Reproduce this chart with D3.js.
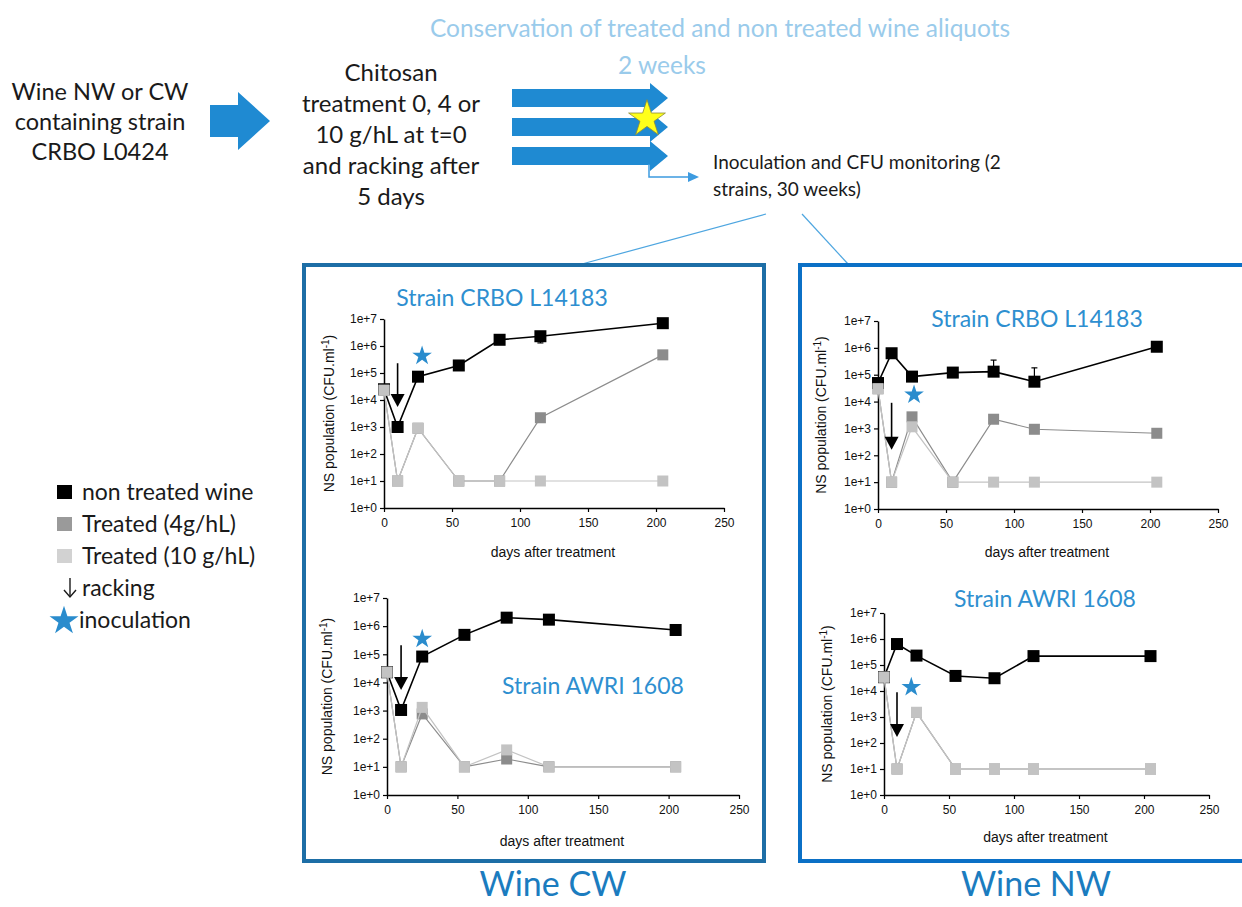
<!DOCTYPE html>
<html>
<head>
<meta charset="utf-8">
<script src="https://cdn.jsdelivr.net/npm/d3@7"></script>
<style>
  html, body { margin: 0; padding: 0; background: #fff; }
  svg { display: block; }
</style>
</head>
<body>
<svg id="fig" width="1242" height="907"></svg>
<script>
// Sampling days and axis ticks shared by all four panels
const days = [0, 10, 25, 55, 85, 115, 205];
const xTicks = [0, 50, 100, 150, 200, 250];
const yTicks = [1, 10, 100, 1e3, 1e4, 1e5, 1e6, 1e7];

// Wine CW, strain CRBO L14183
const cwCrboNon = [2.5e4, 1e3, 7.3e4, 1.9e5, 1.7e6, 2.3e6, 7e6];
const cwCrbo4 = [2.3e4, 10, 9e2, 10, 10, 2.2e3, 4.7e5];
const cwCrbo10 = [2.3e4, 10, 9e2, 10, 10, 10, 10];
const cwCrboErr = [[115, 1.3e6, 2.3e6]];

// Wine NW, strain CRBO L14183
const nwCrboNon = [4.9e4, 6.3e5, 8.5e4, 1.2e5, 1.3e5, 5.5e4, 1.1e6];
const nwCrbo4 = [3e4, 10, 2.7e3, 10, 2.2e3, 9.3e2, 6.6e2];
const nwCrbo10 = [3e4, 10, 1.15e3, 10, 10, 10, 10];
const nwCrboErr = [[85, 1.3e5, 3.5e5], [115, 5.5e4, 1.8e5]];

// Wine CW, strain AWRI 1608
const cwAwriNon = [2.3e4, 1.05e3, 8.3e4, 4.9e5, 2e6, 1.7e6, 7.3e5];
const cwAwri4 = [2.3e4, 10, 7.6e2, 10, 19, 10, 10];
const cwAwri10 = [2.3e4, 10, 1.3e3, 10, 40, 10, 10];

// Wine NW, strain AWRI 1608
const nwAwriNon = [3.4e4, 6.4e5, 2.3e5, 3.8e4, 3.1e4, 2.2e5, 2.2e5];
const nwAwri4 = [3.4e4, 10, 1.5e3, 10, 10, 10, 10];
const nwAwri10 = [3.4e4, 10, 1.5e3, 10, 10, 10, 10];

// Legend entries
const legendLabels = ['non treated wine', 'Treated (4g/hL)', 'Treated (10 g/hL)', 'racking', 'inoculation'];

const C_BLACK = '#000';
const C_MID = '#8c8c8c';
const C_LIGHT = '#c3c3c3';
const C_STAR = '#2a8ccd';
const C_TITLE = '#2e8fd0';
const SANS = 'Lato, "Open Sans", sans-serif';
const ARIAL = '"Liberation Sans", Arial, sans-serif';

const svg = d3.select('#fig');

// -----------------------------------------------------------------------------
// Flow diagram across the top
// -----------------------------------------------------------------------------
function multiline(lines, cx, y0, dy, size, color, anchor = 'middle') {
  const t = svg.append('text')
    .attr('text-anchor', anchor)
    .attr('font-family', SANS)
    .attr('font-size', size)
    .attr('fill', color);
  lines.forEach((l, i) => {
    t.append('tspan').attr('x', cx).attr('y', y0 + i * dy).text(l);
  });
  return t;
}

multiline(['Wine NW or CW', 'containing strain', 'CRBO L0424'], 100, 100, 30, 23.5, '#1a1a1a');
multiline(['Chitosan', 'treatment 0, 4 or', '10 g/hL at t=0', 'and racking after', '5 days'], 391, 81, 31, 24, '#1a1a1a');

multiline(['Conservation of treated and non treated wine aliquots'], 720, 37, 0, 24.5, '#9acbeb');
multiline(['2 weeks'], 662, 74, 0, 24.5, '#9acbeb');

// big block arrow
function blockArrow(x0, x1, cy, bodyH, headH, headW, color) {
  const p = d3.path();
  p.moveTo(x0, cy - bodyH / 2);
  p.lineTo(x1 - headW, cy - bodyH / 2);
  p.lineTo(x1 - headW, cy - headH / 2);
  p.lineTo(x1, cy);
  p.lineTo(x1 - headW, cy + headH / 2);
  p.lineTo(x1 - headW, cy + bodyH / 2);
  p.lineTo(x0, cy + bodyH / 2);
  p.closePath();
  svg.append('path').attr('d', p.toString()).attr('fill', color);
}
blockArrow(210, 270, 121, 32, 58, 32, '#1f8ad2');
[98, 127, 156].forEach(cy => blockArrow(512, 668, cy, 18, 30, 18, '#1f8ad2'));

svg.append('path')
  .attr('d', d3.symbol(d3.symbolStar, 420)())
  .attr('transform', 'translate(647,119)')
  .attr('fill', '#ffff1a')
  .attr('stroke', '#8a8a3a')
  .attr('stroke-width', 0.8);

// small connector arrow into the inoculation step
svg.append('path')
  .attr('d', 'M649,164 L649,177 L690,177')
  .attr('fill', 'none').attr('stroke', '#3d9be0').attr('stroke-width', 1.5);
svg.append('path')
  .attr('d', 'M699,177 L688,172 L688,182 Z')
  .attr('fill', '#3d9be0');

multiline(['Inoculation and CFU monitoring (2', 'strains, 30 weeks)'], 713, 169, 27, 19, '#1a1a1a', 'start');

// callout lines to the two boxes
svg.append('line').attr('x1', 766).attr('y1', 214).attr('x2', 582).attr('y2', 264)
  .attr('stroke', '#4ea6e0').attr('stroke-width', 1.2);
svg.append('line').attr('x1', 802).attr('y1', 214).attr('x2', 848).attr('y2', 264)
  .attr('stroke', '#4ea6e0').attr('stroke-width', 1.2);

// wine boxes
svg.append('rect').attr('x', 304).attr('y', 265).attr('width', 460).attr('height', 596)
  .attr('fill', 'none').attr('stroke', '#1d6ea6').attr('stroke-width', 4);
svg.append('rect').attr('x', 800).attr('y', 265).attr('width', 460).attr('height', 596)
  .attr('fill', 'none').attr('stroke', '#0b70c6').attr('stroke-width', 4);

multiline(['Wine CW'], 553, 896, 0, 34, '#1b7cbf');
multiline(['Wine NW'], 1036, 896, 0, 34, '#1b7cbf');

// -----------------------------------------------------------------------------
// Legend
// -----------------------------------------------------------------------------
const legend = svg.append('g').attr('font-family', SANS).attr('font-size', 23).attr('fill', '#1a1a1a');
const legendY = d3.scalePoint().domain(legendLabels).range([492, 620]);
const swatch = [C_BLACK, '#9a9a9a', '#d2d2d2'];
legendLabels.forEach((lab, i) => {
  const cy = legendY(lab);
  if (i < 3) {
    legend.append('rect').attr('x', 57).attr('y', cy - 7).attr('width', 15).attr('height', 14)
      .attr('fill', swatch[i]);
  } else if (i === 3) {
    legend.append('line').attr('x1', 70).attr('y1', cy - 10).attr('x2', 70).attr('y2', cy + 8)
      .attr('stroke', '#1a1a1a').attr('stroke-width', 1.4);
    legend.append('path').attr('d', `M64,${cy + 2} L70,${cy + 9} L76,${cy + 2}`)
      .attr('fill', 'none').attr('stroke', '#1a1a1a').attr('stroke-width', 1.4);
  } else {
    legend.append('path').attr('d', d3.symbol(d3.symbolStar, 260)())
      .attr('transform', `translate(64,${cy + 1})`).attr('fill', C_STAR);
  }
  legend.append('text').attr('x', i === 4 ? 79 : 82).attr('y', cy + 8).text(lab);
});

// -----------------------------------------------------------------------------
// The four log-scale panels
// -----------------------------------------------------------------------------
function panel(cfg) {
  const x = d3.scaleLinear().domain([0, 250]).range([cfg.x0, cfg.x1]);
  const y = d3.scaleLog().domain([1, 1e7]).range([cfg.yb, cfg.yt]);
  const g = svg.append('g');

  const ax = g.append('g').attr('transform', `translate(0,${cfg.yb})`)
    .call(d3.axisBottom(x).tickValues(xTicks).tickSize(4).tickSizeOuter(0).tickPadding(6));
  const ay = g.append('g').attr('transform', `translate(${cfg.x0},0)`)
    .call(d3.axisLeft(y).tickValues(yTicks).tickSize(4).tickSizeOuter(0).tickPadding(3)
      .tickFormat(d => '1e+' + Math.round(Math.log10(d))));
  [ax, ay].forEach(a => {
    a.select('.domain').attr('stroke', '#000').attr('stroke-width', 1.5);
    a.selectAll('.tick line').attr('stroke', '#000').attr('stroke-width', 1.2);
    a.selectAll('.tick text').attr('font-family', ARIAL).attr('font-size', 12).attr('fill', '#111');
  });

  // axis titles
  const yt = g.append('text')
    .attr('transform', `translate(${cfg.ytx},${(cfg.yt + cfg.yb) / 2}) rotate(-90)`)
    .attr('text-anchor', 'middle')
    .attr('font-family', ARIAL).attr('font-size', 14).attr('fill', '#111');
  yt.append('tspan').text('NS population (CFU.ml');
  yt.append('tspan').attr('dy', -5).attr('font-size', 10).text('-1');
  yt.append('tspan').attr('dy', 5).text(')');

  g.append('text').attr('x', (cfg.x0 + cfg.x1) / 2 - 1).attr('y', cfg.xty)
    .attr('text-anchor', 'middle')
    .attr('font-family', ARIAL).attr('font-size', 14).attr('fill', '#111')
    .text('days after treatment');

  g.append('text').attr('x', cfg.tx).attr('y', cfg.ty).attr('text-anchor', 'middle')
    .attr('font-family', SANS).attr('font-size', 23).attr('fill', C_TITLE)
    .text(cfg.title);

  const line = d3.line().x((d, i) => x(days[i])).y(d => y(d));
  const series = [
    { v: cfg.non, c: C_BLACK, w: 1.6, s: 12 },
    { v: cfg.t4, c: C_MID, w: 1.2, s: 11 },
    { v: cfg.t10, c: C_LIGHT, w: 1.2, s: 11 }
  ];
  series.forEach(sr => {
    g.append('path').datum(sr.v).attr('d', line)
      .attr('fill', 'none').attr('stroke', sr.c).attr('stroke-width', sr.w);
    g.selectAll(null).data(sr.v).join('rect')
      .attr('x', (d, i) => x(days[i]) - sr.s / 2)
      .attr('y', d => y(d) - sr.s / 2)
      .attr('width', sr.s).attr('height', sr.s)
      .attr('fill', sr.c);
  });

  (cfg.err || []).forEach(([dx, lo, hi]) => {
    g.append('line').attr('x1', x(dx)).attr('x2', x(dx)).attr('y1', y(lo)).attr('y2', y(hi))
      .attr('stroke', '#000').attr('stroke-width', 1.2);
    const capY = y(hi) < y(cfg.non[days.indexOf(dx)]) - 1 ? y(hi) : y(lo);
    g.append('line').attr('x1', x(dx) - 3).attr('x2', x(dx) + 3).attr('y1', capY).attr('y2', capY)
      .attr('stroke', '#000').attr('stroke-width', 1.2);
  });

  // racking arrow
  const [rd, rTop, rTip] = cfg.rack;
  const ax0 = x(rd), ay0 = y(rTop), ay1 = y(rTip);
  g.append('line').attr('x1', ax0).attr('x2', ax0).attr('y1', ay0).attr('y2', ay1 - 10)
    .attr('stroke', '#000').attr('stroke-width', 1.6);
  g.append('path').attr('d', `M${ax0 - 7},${ay1 - 13} L${ax0 + 7},${ay1 - 13} L${ax0},${ay1} Z`)
    .attr('fill', '#000');

  // inoculation star
  g.append('path').attr('d', d3.symbol(d3.symbolStar, 120)())
    .attr('transform', `translate(${x(cfg.star[0])},${y(cfg.star[1])})`)
    .attr('fill', C_STAR);
}

panel({ x0: 384, x1: 724, yt: 319, yb: 508, ytx: 334, xty: 557, tx: 502, ty: 306,
  title: 'Strain CRBO L14183', non: cwCrboNon, t4: cwCrbo4, t10: cwCrbo10, err: cwCrboErr,
  rack: [10, 2.3e5, 5.5e3], star: [28, 4.3e5] });
panel({ x0: 878, x1: 1218, yt: 321, yb: 509, ytx: 826, xty: 557, tx: 1037, ty: 327,
  title: 'Strain CRBO L14183', non: nwCrboNon, t4: nwCrbo4, t10: nwCrbo10, err: nwCrboErr,
  rack: [10, 9e3, 1.6e2], star: [26.5, 1.8e4] });
panel({ x0: 387, x1: 739, yt: 598, yb: 795, ytx: 332, xty: 846, tx: 593, ty: 694,
  title: 'Strain AWRI 1608', non: cwAwriNon, t4: cwAwri4, t10: cwAwri10,
  rack: [10, 2.1e5, 5.4e3], star: [25, 3.5e5] });
panel({ x0: 884, x1: 1209, yt: 613, yb: 795, ytx: 832, xty: 842, tx: 1045, ty: 607,
  title: 'Strain AWRI 1608', non: nwAwriNon, t4: nwAwri4, t10: nwAwri10,
  rack: [10, 9e3, 1.7e2], star: [21, 1.4e4] });
</script>
</body>
</html>
